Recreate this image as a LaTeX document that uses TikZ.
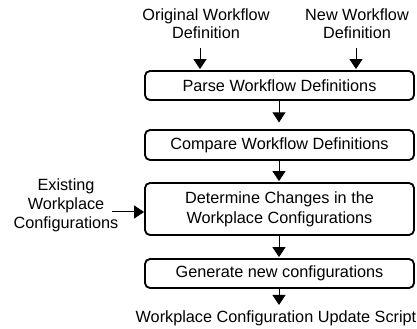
\documentclass[tikz,border=0pt]{standalone}
\usepackage{fontspec}
\setmainfont{Liberation Sans}
\usetikzlibrary{arrows.meta}
\begin{document}
\begin{tikzpicture}[x=0.6pt,y=-0.6pt,
  box/.style={draw,line width=1.1pt,rounded corners=3pt,minimum width=161.4pt,inner sep=0pt,align=center,font=\fontsize{9.75}{11}\selectfont},
  lbl/.style={align=center,inner sep=0pt,font=\fontsize{9.75}{10.8}\selectfont},
  arr/.style={line width=0.6pt,-{Triangle[width=7.8pt,length=6pt]}}]
\useasboundingbox (0,0) rectangle (417,329);
\node[lbl] (orig) at (206,24) {Original Workflow\\Definition};
\node[lbl] (new) at (357,24) {New Workflow\\Definition};
\node[box,minimum height=17.4pt] (parse) at (279.5,85.5) {Parse Workflow Definitions};
\node[box,minimum height=18pt] (cmp) at (279.5,145) {Compare Workflow Definitions};
\node[box,minimum height=31.2pt] (det) at (279.5,209) {Determine Changes in the\\[1.2pt]Workplace Configurations};
\node[box,minimum height=17.4pt] (gen) at (279.5,273.5) {Generate new configurations};
\node[lbl] (out) at (276,318) {Workplace Configuration Update Script};
\node[lbl,font=\fontsize{9.75}{11.4}\selectfont] (ex) at (66,205) {Existing\\Workplace\\Configurations};
\coordinate (o1) at (200,48);
\coordinate (n1) at (356,48);
\coordinate (e1) at (112,212);
\coordinate (g1) at (279,305);
\draw[arr,shorten >=0.6pt] (o1) -- (o1 |- parse.north);
\draw[arr,shorten >=0.6pt] (n1) -- (n1 |- parse.north);
\draw[arr,shorten >=4pt] (parse.south -| g1) -- (cmp.north -| g1);
\draw[arr,shorten >=0.6pt] (cmp.south -| g1) -- (det.north -| g1);
\draw[arr,shorten >=0.6pt] (det.south -| g1) -- (gen.north -| g1);
\draw[arr] (gen.south -| g1) -- (g1);
\draw[arr] (e1) -- (e1 -| det.west);
\end{tikzpicture}
\end{document}
